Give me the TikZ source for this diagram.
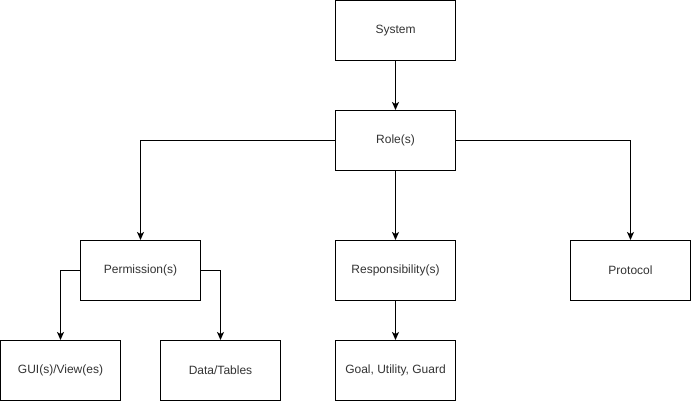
\documentclass[tikz,border=0pt]{standalone}
\usepackage{fontspec}
\setmainfont{Liberation Sans}
\usetikzlibrary{arrows.meta}
\begin{document}
\begin{tikzpicture}[x=1pt,y=-1pt,
  box/.style={draw=black,line width=1pt,fill=white,minimum width=120pt,minimum height=60pt,inner sep=0pt,font=\fontsize{12}{14}\selectfont,text=black!80},
  conn/.style={draw=black,line width=1pt,-{Stealth[length=8pt,width=7pt,inset=2pt]}}]
\useasboundingbox (0,0) rectangle (691,401);
\fill[white] (0,0) rectangle (691,401);
\node[box] (sys) at (395.5,30.5) {System};
\node[box] (role) at (395.5,140.5) {Role(s)};
\node[box] (perm) at (140.5,270.5) {Permission(s)};
\node[box] (resp) at (395.5,270.5) {Responsibility(s)};
\node[box] (prot) at (630.5,270.5) {Protocol};
\node[box] (gui) at (60.5,370.5) {GUI(s)/View(es)};
\node[box] (data) at (220.5,370.5) {Data/Tables};
\node[box] (goal) at (395.5,370.5) {Goal, Utility, Guard};
\draw[conn] (sys) -- (role);
\draw[conn] (role.west) -| (perm.north);
\draw[conn] (role.east) -| (prot.north);
\draw[conn] (role) -- (resp);
\draw[conn] (perm.west) -| (gui.north);
\draw[conn] (perm.east) -| (data.north);
\draw[conn] (resp) -- (goal);
\end{tikzpicture}
\end{document}
